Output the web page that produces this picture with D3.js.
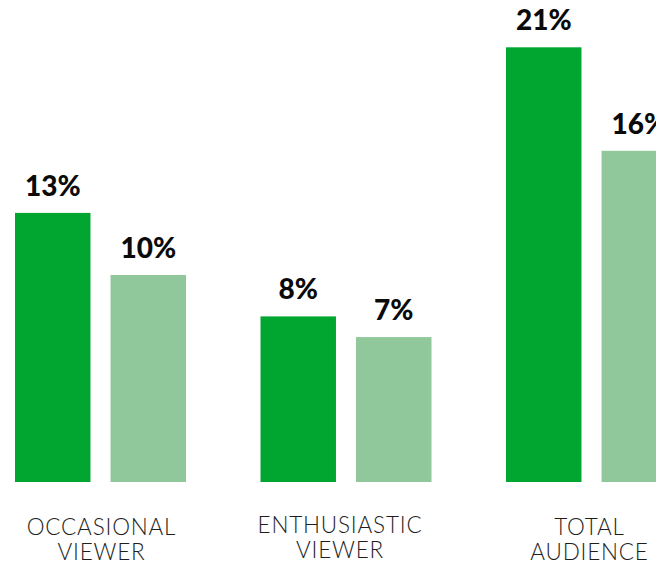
<!DOCTYPE html>
<html>
<head>
<meta charset="utf-8">
<script src="https://cdn.jsdelivr.net/npm/d3@7"></script>
<style>
  html, body { margin: 0; padding: 0; background: #fff; overflow: hidden; }
  svg { display: block; }
</style>
</head>
<body>
<svg id="chart" width="656" height="561"></svg>
<script>
const categories = [["OCCASIONAL", "VIEWER"], ["ENTHUSIASTIC", "VIEWER"], ["TOTAL", "AUDIENCE"]];
const seriesNames = ["A", "B"];
const seriesA = [13, 8, 21];
const seriesB = [10, 7, 16];
const colors = ["#00a630", "#90c79b"];

const svg = d3.select("#chart");
const baseY = 482;
const pxPerUnit = 20.7;

const x0 = d3.scaleBand()
  .domain(d3.range(categories.length))
  .range([15, 15 + 3 * 245.5 - 74.5])
  .paddingInner(74.5 / 245.5)
  .paddingOuter(0);

const x1 = d3.scaleBand()
  .domain(seriesNames)
  .range([0, x0.bandwidth()])
  .paddingInner(0.21)
  .paddingOuter(0);

const y = d3.scaleLinear().domain([0, 1]).range([baseY, baseY - pxPerUnit]);

const data = categories.map((c, i) => ({ i, values: [seriesA[i], seriesB[i]] }));

const g = svg.selectAll("g.group").data(data).join("g")
  .attr("class", "group")
  .attr("transform", d => `translate(${x0(d.i)},0)`);

g.selectAll("rect").data(d => d.values.map((v, k) => ({ v, k }))).join("rect")
  .attr("x", d => x1(seriesNames[d.k]))
  .attr("y", d => y(d.v))
  .attr("width", x1.bandwidth())
  .attr("height", d => y(0) - y(d.v))
  .attr("fill", d => colors[d.k]);

g.selectAll("text.val").data(d => d.values.map((v, k) => ({ v, k }))).join("text")
  .attr("class", "val")
  .attr("x", d => x1(seriesNames[d.k]) + x1.bandwidth() / 2)
  .attr("y", d => y(d.v) - 17)
  .attr("text-anchor", "middle")
  .attr("font-family", "Lato, 'Open Sans', sans-serif")
  .attr("font-weight", "900")
  .attr("font-size", 28)
  .attr("fill", "#0a0a0a")
  .text(d => d.v + "%");

const labelNudgeX = [1, -6, -2];
const labelNudgeY = [0, -2, 0];
g.each(function(d) {
  const t = d3.select(this).append("text")
    .attr("text-anchor", "middle")
    .attr("font-family", "Lato, 'Open Sans', sans-serif")
    .attr("font-weight", "300")
    .attr("font-size", 22.5)
    .attr("letter-spacing", "0.8px")
    .attr("fill", "#1e1e1e");
  categories[d.i].forEach((line, j) => {
    t.append("tspan")
      .attr("x", x0.bandwidth() / 2 + labelNudgeX[d.i])
      .attr("y", 535 + labelNudgeY[d.i] + j * 25)
      .text(line);
  });
});
</script>
</body>
</html>
